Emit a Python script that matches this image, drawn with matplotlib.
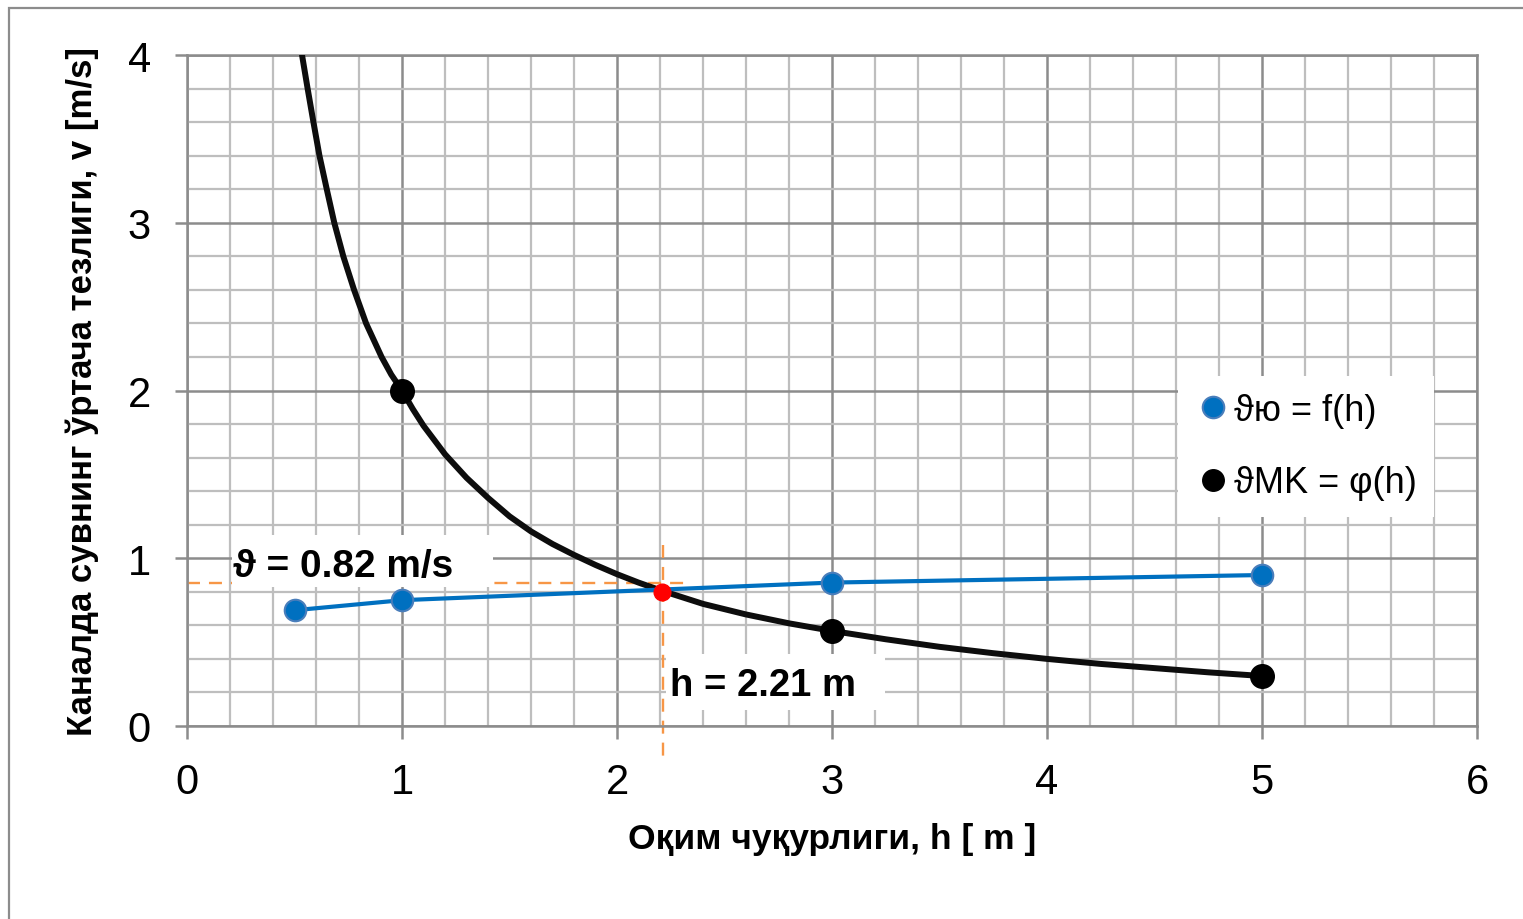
import matplotlib
matplotlib.use("Agg")
import matplotlib.pyplot as plt
from matplotlib.lines import Line2D
from matplotlib.patches import Rectangle
import numpy as np

# --- data ---
h_ju = [0.5, 1.0, 3.0, 5.0]
v_ju = [0.69, 0.75, 0.855, 0.90]

h_mk = [1.0, 3.0, 5.0]
v_mk = [2.0, 0.567, 0.298]

# points
h_curve = [0.535, 0.561, 0.588, 0.616, 0.650, 0.685, 0.727, 0.777, 0.833, 0.905,
           0.95, 1.0, 1.05, 1.1, 1.2, 1.3, 1.4, 1.5, 1.6, 1.7, 1.8, 1.9, 2.0, 2.1, 2.2,
           2.4, 2.6, 2.8, 3.0, 3.25, 3.5, 3.75, 4.0, 4.25, 4.5, 4.75, 5.0]
v_curve = [4.0, 3.8, 3.6, 3.4, 3.2, 3.0, 2.8, 2.6, 2.4, 2.2,
           2.095, 2.0, 1.89, 1.79, 1.62, 1.48, 1.36, 1.25, 1.16, 1.085, 1.02, 0.96, 0.905, 0.855, 0.81,
           0.728, 0.665, 0.612, 0.567, 0.517, 0.472, 0.434, 0.40, 0.37, 0.345, 0.32, 0.298]

h_cross, v_cross = 2.21, 0.80
v_guide = 0.85

x_label = "Оқим чуқурлиги, h [ m ]"
y_label = "Каналда сувнинг ўртача тезлиги, v [m/s]"
leg_labels = ["ϑю = f(h)", "ϑMK = φ(h)"]

plt.rcParams["font.family"] = ["Liberation Sans", "DejaVu Sans"]

BLUE = "#0070C0"
ORANGE = "#F79646"
MAJOR = "#8C8C8C"
MINOR = "#BEBEBE"

fig = plt.figure(figsize=(15.23, 9.2), dpi=100)
ax = fig.add_axes([187 / 1523, 1 - 727 / 920, 1290 / 1523, 671 / 920])

# outer chart border
fig.patches.append(Rectangle((9 / 1523, -0.05), 1.2, 0.05 + 911 / 920, transform=fig.transFigure,
                             fill=False, edgecolor=MAJOR, linewidth=1.6))

ax.set_xlim(0, 6)
ax.set_ylim(0, 4)
ax.set_xticks(np.arange(0, 7, 1))
ax.set_yticks(np.arange(0, 5, 1))
ax.set_xticks(np.arange(0, 6.01, 0.2), minor=True)
ax.set_yticks(np.arange(0, 4.01, 0.2), minor=True)
ax.grid(which="minor", color=MINOR, linewidth=1.6, zorder=0)
ax.grid(which="major", color=MAJOR, linewidth=1.8, zorder=0)
ax.set_axisbelow(True)
ax.tick_params(which="major", length=9, width=1.8, color=MAJOR, labelsize=30, pad=17)
ax.tick_params(which="minor", length=0)
for s in ax.spines.values():
    s.set_color(MAJOR)
    s.set_linewidth(1.8)

# guide lines
ax.plot([0, 2.35], [v_guide, v_guide], color=ORANGE, lw=1.7, ls=(0, (5.5, 3.8)), zorder=2, clip_on=False)
ax.plot([h_cross + 0.004, h_cross + 0.004], [1.08, -0.2], color=ORANGE, lw=1.7, ls=(0, (5.5, 3.8)),
        zorder=2, clip_on=False)

# annotation boxes
ax.add_patch(Rectangle((0.209, 0.827), 1.214, 0.31, facecolor="white", edgecolor="none", zorder=3))
ax.add_patch(Rectangle((2.228, 0.095), 1.02, 0.334, facecolor="white", edgecolor="none", zorder=3))
ax.text(0.214, 0.955, "ϑ = 0.82 m/s", fontsize=28, fontweight="bold", ha="left", va="center", zorder=4)
ax.text(2.247, 0.244, "h = 2.21 m", fontsize=27.5, fontweight="bold", ha="left", va="center", zorder=4)

# series
ax.plot(h_curve, v_curve, color="#0D0D0D", lw=4.3, zorder=5, solid_capstyle="round",
        solid_joinstyle="round")
ax.plot(h_mk, v_mk, "o", color="black", ms=17, zorder=6)
ax.plot(h_ju, v_ju, "-o", color=BLUE, lw=3, ms=15.5, mfc=BLUE, mec="#4A7EBB", mew=1.5, zorder=7)
ax.plot([h_cross], [v_cross], "o", color="#FF0000", ms=12, zorder=8)

ax.set_xlabel(x_label, fontsize=25.5, fontweight="bold")
ax.set_ylabel(y_label, fontsize=25, fontweight="bold")
ax.xaxis.set_label_coords(0.5, -0.143)
ax.yaxis.set_label_coords(-0.068, 0.5)

handles = [Line2D([], [], ls="", marker="o", ms=15.5, mfc=BLUE, mec="#4A7EBB", mew=1.5),
           Line2D([], [], ls="", marker="o", ms=15.5, mfc="black", mec="black")]
leg = ax.legend(handles, leg_labels, loc="upper left", bbox_to_anchor=(0.768, 0.5216),
                fontsize=26, frameon=True, facecolor="white", edgecolor="none", framealpha=1,
                fancybox=False, handletextpad=0.1, handlelength=1.0, labelspacing=1.03,
                borderpad=0.47, borderaxespad=0)
leg.set_zorder(9)

fig.savefig("out.png", dpi=100)
